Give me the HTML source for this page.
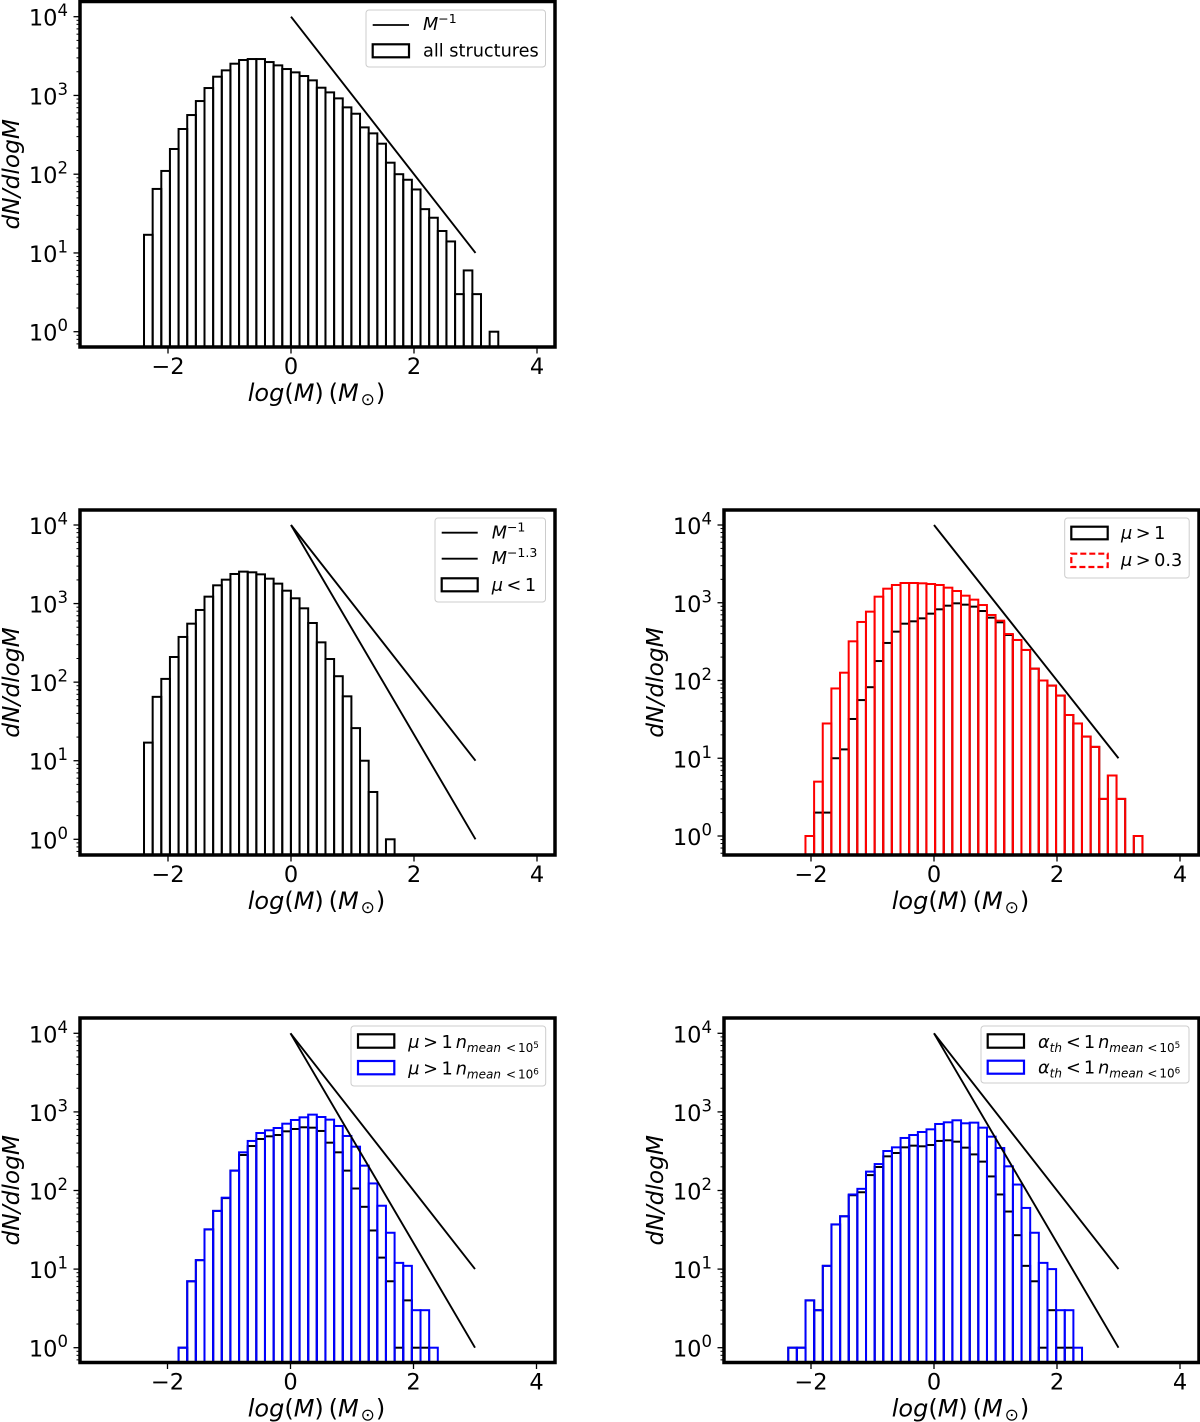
<!DOCTYPE html>
<html lang="en">
<head>
<meta charset="utf-8">
<title>Mass function histograms</title>
<style>
html,body{margin:0;padding:0;background:#fff;}
svg{display:block;font-family:"DejaVu Sans","Liberation Sans",sans-serif;filter:blur(0.35px);}
.leg{font-size:17.7px;fill:#000;}
.sub{font-size:12px;}
.sup2{font-size:8.8px;}
.i{font-style:italic;}
</style>
</head>
<body>
<svg id="figure" xmlns="http://www.w3.org/2000/svg" width="1200" height="1422" viewBox="0 0 1200 1422">
  <rect width="1200" height="1422" fill="#fff"/>
  <g id="panel-all"></g>
  <g id="panel-mu-low"></g>
  <g id="panel-mu-high"></g>
  <g id="panel-mu-n"></g>
  <g id="panel-alpha-n"></g>

  <g>
    <rect x="366" y="10" width="179.5" height="57" rx="3" fill="#fff" fill-opacity=".8" stroke="#ccc" stroke-width="1"/>
    <line x1="372.7" x2="409" y1="25" y2="25" stroke="#000" stroke-width="1.8"/>
    <text class="leg" x="423" y="30"><tspan class="i">M</tspan><tspan font-size="12.5" dy="-7">−1</tspan></text>
    <rect x="372.7" y="44.3" width="36.3" height="13" fill="none" stroke="#000" stroke-width="2.2"/>
    <text class="leg" x="423" y="56.7">all structures</text>
  </g>

  <g>
    <rect x="435" y="518" width="110.5" height="84" rx="3" fill="#fff" fill-opacity=".8" stroke="#ccc" stroke-width="1"/>
    <line x1="441.7" x2="477.7" y1="532.7" y2="532.7" stroke="#000" stroke-width="1.8"/>
    <text class="leg" x="491.7" y="538.3"><tspan class="i">M</tspan><tspan font-size="12.5" dy="-7">−1</tspan></text>
    <line x1="441.7" x2="477.7" y1="558.7" y2="558.7" stroke="#000" stroke-width="1.8"/>
    <text class="leg" x="491.7" y="564"><tspan class="i">M</tspan><tspan font-size="12.5" dy="-7">−1.3</tspan></text>
    <rect x="441.7" y="578.3" width="36" height="13" fill="none" stroke="#000" stroke-width="2.2"/>
    <text class="leg" x="491.7" y="591"><tspan class="i">μ</tspan>&#8201;&lt;&#8201;1</text>
  </g>

  <g>
    <rect x="1064.7" y="518" width="124.5" height="60" rx="3" fill="#fff" fill-opacity=".8" stroke="#ccc" stroke-width="1"/>
    <rect x="1071.3" y="526.7" width="36.4" height="12.6" fill="none" stroke="#000" stroke-width="2.2"/>
    <text class="leg" x="1121" y="539"><tspan class="i">μ</tspan>&#8201;&gt;&#8201;1</text>
    <rect x="1071.3" y="553.7" width="36.4" height="13.3" fill="none" stroke="#f00" stroke-width="2.2" stroke-dasharray="6 3"/>
    <text class="leg" x="1121" y="566"><tspan class="i">μ</tspan>&#8201;&gt;&#8201;0.3</text>
  </g>

  <g>
    <rect x="351" y="1026" width="194.7" height="60" rx="3" fill="#fff" fill-opacity=".8" stroke="#ccc" stroke-width="1"/>
    <rect x="358" y="1034.3" width="36.3" height="13.4" fill="none" stroke="#000" stroke-width="2.2"/>
    <text class="leg" x="408.3" y="1048"><tspan class="i">μ</tspan>&#8201;&gt;&#8201;1<tspan class="i" dx="3">n</tspan><tspan class="sub i" dy="4">mean</tspan><tspan class="sub" dx="5">&lt;</tspan><tspan class="sub" dx="2">10</tspan><tspan class="sup2" dy="-4">5</tspan></text>
    <rect x="358" y="1061" width="36.3" height="13.3" fill="none" stroke="#00f" stroke-width="2.2"/>
    <text class="leg" x="408.3" y="1074.3"><tspan class="i">μ</tspan>&#8201;&gt;&#8201;1<tspan class="i" dx="3">n</tspan><tspan class="sub i" dy="4">mean</tspan><tspan class="sub" dx="5">&lt;</tspan><tspan class="sub" dx="2">10</tspan><tspan class="sup2" dy="-4">6</tspan></text>
  </g>

  <g>
    <rect x="981" y="1026" width="208" height="57" rx="3" fill="#fff" fill-opacity=".8" stroke="#ccc" stroke-width="1"/>
    <rect x="987.7" y="1034.3" width="36.3" height="13.4" fill="none" stroke="#000" stroke-width="2.2"/>
    <text class="leg" x="1038" y="1048"><tspan class="i">α</tspan><tspan class="sub i" dy="4">th</tspan><tspan dy="-4" dx="4">&lt;</tspan><tspan dx="3">1</tspan><tspan class="i" dx="3">n</tspan><tspan class="sub i" dy="4">mean</tspan><tspan class="sub" dx="4">&lt;</tspan><tspan class="sub" dx="2">10</tspan><tspan class="sup2" dy="-4">5</tspan></text>
    <rect x="987.7" y="1060.7" width="36.3" height="13" fill="none" stroke="#00f" stroke-width="2.2"/>
    <text class="leg" x="1038" y="1073.5"><tspan class="i">α</tspan><tspan class="sub i" dy="4">th</tspan><tspan dy="-4" dx="4">&lt;</tspan><tspan dx="3">1</tspan><tspan class="i" dx="3">n</tspan><tspan class="sub i" dy="4">mean</tspan><tspan class="sub" dx="4">&lt;</tspan><tspan class="sub" dx="2">10</tspan><tspan class="sup2" dy="-4">6</tspan></text>
  </g>
</svg>

<script>
// ---- chart data ----
const xTickValues = [-2, 0, 2, 4];
const xTickLabels = ['−2', '0', '2', '4'];
const yTickExponents = [0, 1, 2, 3, 4];
const yTickLabels = ['0', '1', '2', '3', '4'];
const binWidth = 0.1405;

const refLogM = [0, 3];
const refSlope1 = [10000, 10];
const refSlope13 = [10000, 1];

const allStart = -2.39;
const allCounts = [17,65,110,209,375,564,849,1242,1730,2083,2530,2818,2900,2900,2655,2410,2165,1964,1765,1555,1254,1094,918,706,586,393,330,244,140,100,85,64,36,28,19,14,3,6,3,0,1];

const muLowStart = -2.39;
const muLowCounts = [17,65,110,209,376,555,829,1225,1707,2015,2380,2550,2500,2355,2075,1794,1459,1167,870,566,321,197,119,66,26,10,4,0,1];

const muHighStart = -2.09;
const muAbove1Counts = [0,2,2,10,13,32,56,82,178,304,425,538,577,630,724,823,917,983,945,891,783,643,560,385,332,247,142,100,86,64,36,28,19,14,3,6,3,0,1];
const muAbove03Counts = [1,5,28,79,126,319,566,768,1197,1517,1692,1795,1795,1778,1742,1692,1563,1416,1233,1096,935,696,588,396,332,247,142,100,86,64,36,28,19,14,3,6,3,0,1];

const muDensStart = -1.82;
const muN5Counts = [1,7,13,32,55,80,179,283,368,452,489,508,566,606,637,630,572,406,306,179,106,62,31,14,7,1,4,1,1,0];
const muN6Counts = [1,7,13,32,55,81,179,306,427,539,583,624,708,789,853,923,861,797,662,494,361,207,123,64,29,12,11,3,3,1];

const alphaDensStart = -2.37;
const alphaN5Counts = [1,1,4,3,11,37,47,87,95,157,199,272,300,354,372,365,379,427,435,418,351,288,233,151,89,54,27,11,7,1,3,1,1,0];
const alphaN6Counts = [1,1,4,3,11,37,47,89,105,174,217,318,354,466,508,555,600,702,737,782,716,730,630,484,347,203,119,60,29,12,10,3,3,1];

// ---- layout of each axes ----
const NS = 'http://www.w3.org/2000/svg';
const layouts = [
  {id:'panel-all',     key:'all',      L:80,  R:555,  T:1.5,  B:347,  x0:291,   y4:16.7,   y0:331.7},
  {id:'panel-mu-low',  key:'mu-low',   L:80,  R:555,  T:510,  B:855,  x0:291,   y4:525,    y0:839.3},
  {id:'panel-mu-high', key:'mu-high',  L:724, R:1199, T:510,  B:855,  x0:934,   y4:525,    y0:836},
  {id:'panel-mu-n',    key:'mu-n',     L:80,  R:555,  T:1018, B:1362.5, x0:290.5, y4:1033.3, y0:1347.7},
  {id:'panel-alpha-n', key:'alpha-n',  L:724, R:1199, T:1018, B:1362.5, x0:934,   y4:1033.3, y0:1347.7}
];
const PX_PER_DEX_X = 61.5;

function xScale(p, v){ return p.x0 + v * PX_PER_DEX_X; }
function yScale(p, v){ return p.y0 + (p.y4 - p.y0) * Math.log10(v) / 4; }

function mk(tag, parent){
  const el = document.createElementNS(NS, tag);
  parent.appendChild(el);
  return el;
}
function setAll(el, o){ for (const k in o) el.setAttribute(k, o[k]); return el; }

function drawHist(p, g, start, counts, color, name){
  const series = mk('g', g);
  
  
  series.setAttribute('clip-path', 'url(#clip-' + p.key + ')');
  counts.forEach(function(c, i){
    if (c <= 0) return;
    const xa = xScale(p, start + i * binWidth);
    const xb = xScale(p, start + (i + 1) * binWidth);
    const yt = yScale(p, c);
    const bar = mk('rect', series);
    
    
    setAll(bar, {x:xa, y:yt, width:xb - xa, height:p.B + 10 - yt, fill:'none', stroke:color, 'stroke-width':2});
  });
}

function drawRef(p, g, vals, name){
  const line = mk('line', g);
  
  
  setAll(line, {x1:xScale(p, refLogM[0]), x2:xScale(p, refLogM[1]), y1:yScale(p, vals[0]), y2:yScale(p, vals[1]), stroke:'#000', 'stroke-width':1.9});
}

function drawAxes(p, g){
  // ticks
  const ticks = mk('g', g);
  
  
  xTickValues.forEach(function(v, i){
    const x = xScale(p, v);
    const t = mk('line', ticks);
    
    
    setAll(t, {x1:x, x2:x, y1:p.B, y2:p.B + 6.5, stroke:'#000', 'stroke-width':1.3});
    const lab = mk('text', g);
    
    
    setAll(lab, {x:x, y:p.B + 27, 'text-anchor':'middle', 'font-size':22.5, fill:'#000'});
    lab.textContent = xTickLabels[i];
  });
  const decade = (p.y0 - p.y4) / 4;
  yTickExponents.forEach(function(e, i){
    const y = yScale(p, Math.pow(10, e));
    const t = mk('line', ticks);
    
    
    setAll(t, {x1:p.L - 6.5, x2:p.L, y1:y, y2:y, stroke:'#000', 'stroke-width':1.3});
    const lab = mk('text', g);
    
    
    setAll(lab, {x:p.L - 12, y:y + 9, 'text-anchor':'end', 'font-size':22.5, fill:'#000'});
    const base = mk('tspan', lab);
    base.textContent = '10';
    const sup = mk('tspan', lab);
    setAll(sup, {'font-size':16.5, dy:-9.5});
    sup.textContent = yTickLabels[i];
  });
  for (let e = -1; e <= 4; e++) {
    for (let m = 2; m <= 9; m++) {
      const y = p.y0 - (e + Math.log10(m)) * decade;
      if (y > p.B || y < p.T) continue;
      const t = mk('line', ticks);
      
      
      setAll(t, {x1:p.L - 3.5, x2:p.L, y1:y, y2:y, stroke:'#000', 'stroke-width':1});
    }
  }
  // spines
  const frame = mk('rect', g);
  
  
  setAll(frame, {x:p.L, y:p.T, width:p.R - p.L, height:p.B - p.T, fill:'none', stroke:'#000', 'stroke-width':3.5});
  // x axis title
  const cx = (p.L + p.R) / 2 - 1;
  const xt = mk('text', g);
  
  
  setAll(xt, {x:cx, y:p.B + 54, 'text-anchor':'middle', 'font-size':24, fill:'#000'});
  xt.innerHTML = '<tspan class="i">log</tspan>(<tspan class="i">M</tspan>)&#8201;(<tspan class="i">M</tspan><tspan font-size="17" dy="4" dx="2">⊙</tspan><tspan dy="-4" dx="1">)</tspan>';
  // y axis title
  const cy = (p.T + p.B) / 2;
  const yx = p.L - 61;
  const yt = mk('text', g);
  
  
  setAll(yt, {x:yx, y:cy, 'text-anchor':'middle', 'font-size':23.3, 'font-style':'italic', fill:'#000', transform:'rotate(-90 ' + yx + ' ' + cy + ')'});
  yt.textContent = 'dN/dlogM';
}

function clipFor(p, g){
  const cp = mk('clipPath', g);
  cp.setAttribute('id', 'clip-' + p.key);
  setAll(mk('rect', cp), {x:p.L, y:p.T, width:p.R - p.L, height:p.B - p.T});
}

const content = [
  {hist:[[allStart, allCounts, '#000', 'histogram-all-structures']], refs:[[refSlope1, 'reference-line-m-1']]},
  {hist:[[muLowStart, muLowCounts, '#000', 'histogram-mu-below-1']], refs:[[refSlope1, 'reference-line-m-1'], [refSlope13, 'reference-line-m-1-3']]},
  {hist:[[muHighStart, muAbove1Counts, '#000', 'histogram-mu-above-1'], [muHighStart, muAbove03Counts, '#f00', 'histogram-mu-above-0-3']], refs:[[refSlope1, 'reference-line-m-1']]},
  {hist:[[muDensStart, muN5Counts, '#000', 'histogram-mu-n-1e5'], [muDensStart, muN6Counts, '#00f', 'histogram-mu-n-1e6']], refs:[[refSlope1, 'reference-line-m-1'], [refSlope13, 'reference-line-m-1-3']]},
  {hist:[[alphaDensStart, alphaN5Counts, '#000', 'histogram-alpha-n-1e5'], [alphaDensStart, alphaN6Counts, '#00f', 'histogram-alpha-n-1e6']], refs:[[refSlope1, 'reference-line-m-1'], [refSlope13, 'reference-line-m-1-3']]}
];

layouts.forEach(function(p, i){
  const g = document.getElementById(p.id);
  clipFor(p, g);
  content[i].hist.forEach(function(h){ drawHist(p, g, h[0], h[1], h[2], h[3]); });
  content[i].refs.forEach(function(r){ drawRef(p, g, r[0], r[1]); });
  drawAxes(p, g);
});
</script>
</body>
</html>
